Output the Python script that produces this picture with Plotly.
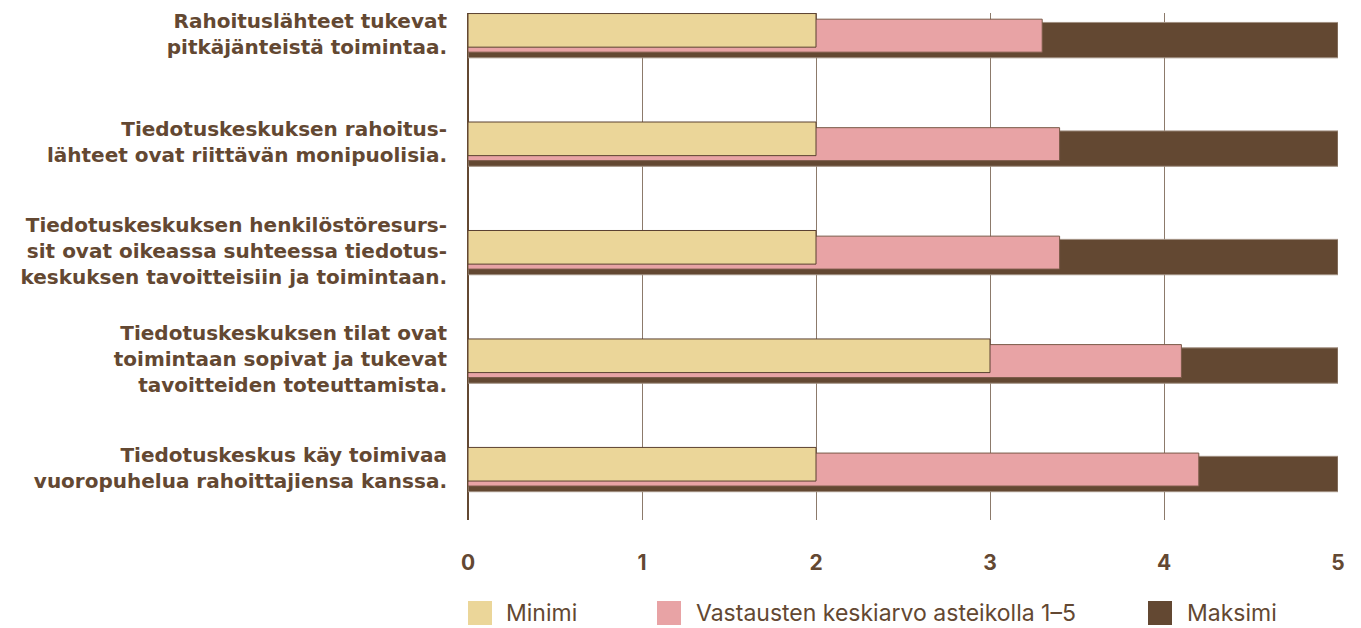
import plotly.graph_objects as go

categories = [
    "Rahoituslähteet tukevat<br>pitkäjänteistä toimintaa.",
    "Tiedotuskeskuksen rahoitus-<br>lähteet ovat riittävän monipuolisia.",
    "Tiedotuskeskuksen henkilöstöresurs-<br>sit ovat oikeassa suhteessa tiedotus-<br>keskuksen tavoitteisiin ja toimintaan.",
    "Tiedotuskeskuksen tilat ovat<br>toimintaan sopivat ja tukevat<br>tavoitteiden toteuttamista.",
    "Tiedotuskeskus käy toimivaa<br>vuoropuhelua rahoittajiensa kanssa.",
]
minimi = [2, 2, 2, 3, 2]
keskiarvo = [3.3, 3.4, 3.4, 4.1, 4.2]
maksimi = [5, 5, 5, 5, 5]
series_names = ["Minimi", "Vastausten keskiarvo asteikolla 1–5", "Maksimi"]
x_ticks = [0, 1, 2, 3, 4, 5]

TEXT = "#634832"
C_MIN = "#EBD699"
C_MEAN = "#E8A3A5"
C_MAX = "#634832"
FONT = "Inter"
LABEL_FONT = "DejaVu Sans"

pos = list(range(len(categories)))

fig = go.Figure()
fig.add_trace(go.Bar(y=pos, x=maksimi, orientation="h", name=series_names[2],
                     marker=dict(color=C_MAX, line=dict(color="#a08f80", width=1)),
                     width=0.326, offset=-0.163, showlegend=False, hoverinfo="x+name"))
fig.add_trace(go.Bar(y=pos, x=keskiarvo, orientation="h", name=series_names[1],
                     marker=dict(color=C_MEAN, line=dict(color="#7a5a48", width=1)),
                     width=0.304, offset=-0.193, showlegend=False, hoverinfo="x+name"))
fig.add_trace(go.Bar(y=pos, x=minimi, orientation="h", name=series_names[0],
                     marker=dict(color=C_MIN, line=dict(color="#5a4030", width=1)),
                     width=0.31, offset=-0.245, showlegend=False, hoverinfo="x+name"))

# the page body has an 8px margin, so the figure starts at (8, 8)
OFF = 8
W, H = 1361 - OFF, 628 - OFF
L, R, T, B = 468 - OFF, 23, 13 - OFF, 108
pw, ph = W - L - R, H - T - B

def px_x(px):
    return (px - OFF - L) / pw

def px_y(py):
    return (H - B - (py - OFF)) / ph

shapes = []
annotations = []
legend_items = [(468, 504, C_MIN), (657, 694, C_MEAN), (1148, 1185, C_MAX)]
for (sx, tx, col), name in zip(legend_items, series_names):
    shapes.append(dict(type="rect", xref="paper", yref="paper",
                       x0=px_x(sx), x1=px_x(sx + 24), y0=px_y(625), y1=px_y(601),
                       fillcolor=col, line=dict(width=0)))
    annotations.append(dict(xref="paper", yref="paper", x=px_x(tx), y=px_y(613),
                            xanchor="left", yanchor="middle", text=name, showarrow=False,
                            font=dict(family=FONT, size=23, color=TEXT)))

fig.update_layout(
    width=W, height=H,
    margin=dict(l=L, r=R, t=T, b=B, autoexpand=False),
    plot_bgcolor="white", paper_bgcolor="white",
    barmode="overlay",
    shapes=shapes, annotations=annotations,
    font=dict(family=FONT, color=TEXT),
    xaxis=dict(range=[0, 5], tickvals=x_ticks, showgrid=True, gridcolor="#8c7a6b", gridwidth=1,
               zeroline=True, zerolinecolor=TEXT, zerolinewidth=2, showline=False,
               tickfont=dict(family=FONT, size=21, color=TEXT, weight="bold"),
               ticklabelstandoff=28, fixedrange=True, automargin=False),
    yaxis=dict(range=[4.424, -0.25], tickvals=[p - 0.06 for p in pos], ticktext=categories,
               showgrid=False, zeroline=False, showline=False,
               tickfont=dict(family=LABEL_FONT, size=20, color=TEXT, weight="bold"),
               ticklabelstandoff=20, ticklabeloverflow="allow", fixedrange=True,
               automargin=False),
)

fig.write_html("out.html")
